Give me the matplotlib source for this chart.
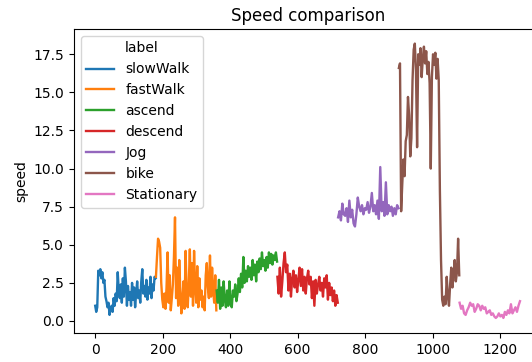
import numpy as np
import matplotlib
matplotlib.use("Agg")
import matplotlib.pyplot as plt

labels = ["slowWalk", "fastWalk", "ascend", "descend", "Jog", "bike", "Stationary"]
segment_len = 180

slow_walk = [1.0, 0.6, 0.9, 3.3, 3.0, 3.4, 2.8, 3.2, 2.5, 2.7, 1.6, 1.3, 0.9, 1.2, 0.4,
             0.8, 1.0, 0.6, 1.5, 1.0, 1.8, 1.3, 3.2, 2.0, 1.5, 2.4, 1.2, 2.8, 1.6, 3.5,
             2.6, 1.0, 2.3, 1.4, 1.9, 1.0, 2.5, 1.4, 2.2, 0.9, 1.8, 2.6, 1.5, 2.0, 1.2,
             2.6, 3.4, 1.8, 2.3, 1.6, 2.7, 1.4, 2.2, 1.8, 2.9, 1.5, 2.4, 2.0, 2.9, 2.8]
fast_walk = [2.9, 4.2, 5.4, 5.2, 4.8, 2.5, 1.4, 0.9, 1.8, 0.8, 2.2, 4.5, 1.2, 3.0, 0.7,
             1.5, 2.4, 4.2, 6.8, 1.5, 3.5, 1.0, 4.0, 2.0, 0.5, 1.4, 2.6, 0.8, 4.6, 1.8,
             0.9, 2.5, 4.7, 1.6, 3.8, 1.0, 4.6, 2.2, 1.2, 3.6, 0.9, 2.8, 1.4, 2.0, 0.9,
             1.6, 0.7, 3.0, 3.8, 2.2, 1.5, 4.3, 1.6, 3.5, 2.0, 1.2, 3.0, 0.7]
ascend = [2.0, 1.2, 2.7, 0.8, 2.2, 1.0, 2.6, 1.4, 0.9, 2.0, 1.0, 2.6, 1.2, 0.9, 2.0,
          1.6, 2.4, 1.3, 1.8, 2.8, 1.9, 3.1, 2.2, 4.2, 2.5, 3.3, 2.6, 3.6, 2.9, 3.5,
          2.7, 4.0, 3.0, 3.7, 2.6, 3.9, 3.2, 4.1, 3.4, 4.5, 3.6, 4.0, 3.3, 4.2, 3.5,
          4.5, 3.8, 4.4, 3.7, 4.3, 4.0, 4.5, 3.9]
descend = [2.9, 1.8, 3.5, 1.6, 2.6, 3.8, 4.5, 3.2, 3.7, 2.0, 3.1, 1.6, 2.8, 3.3, 2.2,
           3.0, 1.9, 2.7, 3.5, 2.3, 3.4, 2.0, 2.9, 1.8, 2.8, 3.3, 2.4, 2.9, 1.5, 2.6,
           1.0, 2.7, 1.8, 2.4, 2.9, 2.0, 2.5, 1.6, 2.8, 2.2, 3.0, 1.4, 2.5, 1.7, 2.2,
           1.3, 2.0, 1.0, 1.7, 1.2]
jog = [6.8, 7.2, 6.6, 7.7, 7.0, 6.9, 7.4, 6.5, 7.9, 6.8, 7.3, 6.4, 6.2, 7.0, 8.1,
       7.5, 7.2, 7.6, 7.0, 7.4, 7.3, 7.8, 7.1, 7.5, 8.4, 7.2, 7.6, 7.0, 7.9, 6.7,
       10.1, 7.2, 7.8, 6.9, 9.1, 7.0, 7.6, 7.2, 7.5, 6.9, 7.4, 7.0, 7.6, 7.4]
bike = [16.6, 16.9, 7.2, 9.0, 10.6, 9.5, 11.8, 12.2, 14.7, 13.5, 10.8, 12.0, 15.8, 17.8,
        18.2, 16.5, 11.4, 17.5, 16.8, 17.9, 16.0, 17.2, 18.0, 16.9, 17.7, 16.2, 17.0,
        15.6, 10.0, 16.0, 17.5, 16.8, 17.6, 15.9, 17.2, 15.8, 8.6, 4.0, 1.4, 1.0, 1.6,
        1.1, 2.9, 1.6, 1.0, 2.4, 3.5, 2.2, 3.0, 4.0, 2.6, 3.2, 5.4, 3.0]
stationary = [1.2, 0.8, 1.0, 0.5, 0.4, 0.7, 0.9, 1.2, 1.0, 1.1, 0.6, 0.8, 1.1, 1.0,
              0.7, 1.0, 0.8, 0.9, 0.5, 0.6, 0.7, 0.4, 0.5, 0.3, 0.2, 0.3, 0.5, 0.3,
              0.4, 0.2, 0.6, 0.4, 0.7, 0.5, 1.1, 0.5, 0.7, 0.9, 0.6, 1.0, 1.3]

speeds = [slow_walk, fast_walk, ascend, descend, jog, bike, stationary]

fig = plt.figure(figsize=(5.32, 3.62), dpi=100)
ax = fig.add_axes([0.139, 0.080, 0.879, 0.840])

# one run of samples per activity, placed back to back along the index
for i, (name, values) in enumerate(zip(labels, speeds)):
    start = i * segment_len
    idx = np.linspace(start, start + segment_len - 1, len(values))
    ax.plot(idx, values, label=name, linewidth=1.7)

ax.set_xlim(-63, 1323)
ax.set_ylim(-0.79, 19.16)
ax.set_title("Speed comparison")
ax.set_ylabel("speed")
ax.legend(title="label", loc="upper left")

fig.savefig("out.png", dpi=100)
